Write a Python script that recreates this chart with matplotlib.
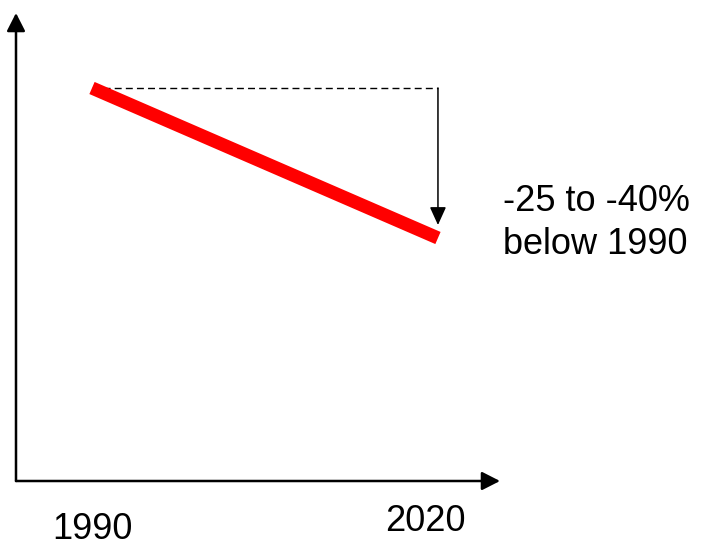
import matplotlib
matplotlib.use("Agg")
import matplotlib.pyplot as plt

# Data
years = [1990, 2020]
emissions = [100, 70]          # index, 1990 = 100
year_labels = ["1990", "2020"]
annotation = "-25 to -40%\nbelow 1990"

W, H, DPI = 708, 548, 100
fig = plt.figure(figsize=(W / DPI, H / DPI), dpi=DPI)
# axes box in pixels: x 16..500, y 13..481 (from top)
ax = fig.add_axes([16 / W, (H - 481) / H, (500 - 16) / W, (481 - 13) / H])
ax.set_xlim(1983.41, 2025.38)
ax.set_ylim(21.4, 115)
for s in ax.spines.values():
    s.set_visible(False)
ax.set_xticks([])
ax.set_yticks([])
ax.patch.set_alpha(0)

plt.rcParams['font.family'] = ['Liberation Sans', 'DejaVu Sans']

# axis arrows
axis_arrow = dict(arrowstyle='-|>,head_length=0.55,head_width=0.28', lw=1.8,
                  color='black', mutation_scale=20, shrinkA=0, shrinkB=0)
ax.annotate('', xy=(0, 1), xytext=(0, 0), xycoords='axes fraction',
            arrowprops=axis_arrow, annotation_clip=False)
ax.annotate('', xy=(1, 0), xytext=(0, 0), xycoords='axes fraction',
            arrowprops=axis_arrow, annotation_clip=False)

# dashed reference line at 1990 level
ax.plot([years[0], years[1]], [emissions[0], emissions[0]], color='black',
        lw=1.0, dashes=(5, 3))

# red trend line
ax.plot(years, emissions, color='#ff0000', lw=9.5, solid_capstyle='butt')

# down arrow
ax.annotate('', xy=(years[1], emissions[1] + 2.6), xytext=(years[1], emissions[0]),
            arrowprops=dict(arrowstyle='-|>,head_length=0.55,head_width=0.25', lw=1.1,
                            color='black', mutation_scale=20, shrinkA=0, shrinkB=0))

# annotation text
ax.annotate(annotation, xy=(years[1], emissions[1]), xytext=(47, 11),
            textcoords='offset points', ha='left', va='center', fontsize=26,
            linespacing=1.3, annotation_clip=False)

# year labels
offsets = [(0, -35), (-9, -29)]
for yr, lab, off in zip(years, year_labels, offsets):
    ax.annotate(lab, xy=(yr, 0), xycoords=('data', 'axes fraction'), xytext=off,
                textcoords='offset points', ha='center', va='center', fontsize=26,
                annotation_clip=False)

fig.savefig("out.png", dpi=DPI)
